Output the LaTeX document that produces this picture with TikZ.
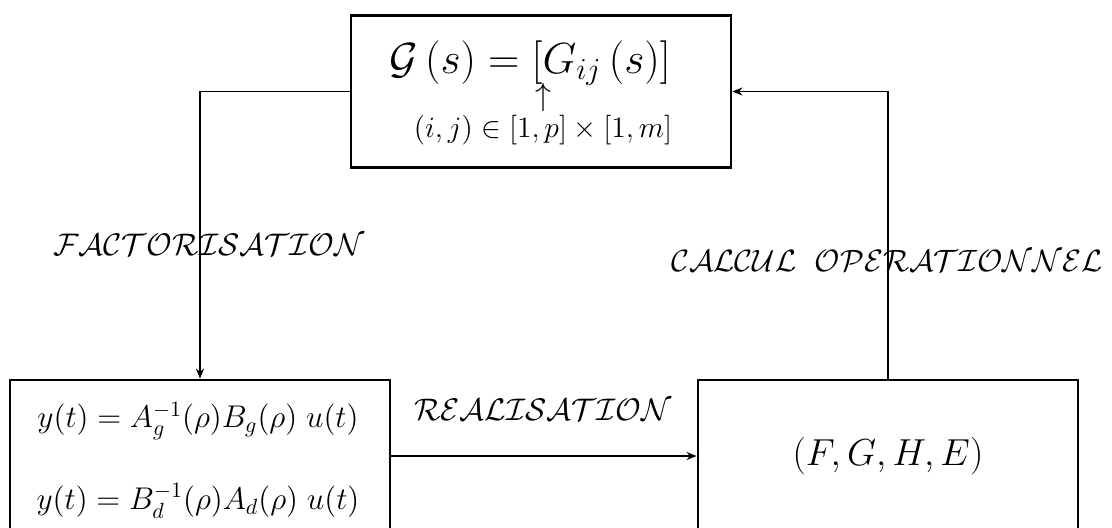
\RequirePackage{fix-cm}
\documentclass[tikz,border=0pt]{standalone}
\usepackage{amsmath}
\usetikzlibrary{arrows.meta}
\begin{document}
\begin{tikzpicture}[x=0.5pt,y=-0.5pt,
  box/.style={draw,line width=1.4pt,minimum width=190pt,minimum height=76pt,inner sep=0pt},
  conn/.style={line width=0.9pt},
  arr/.style={conn,-{Stealth[length=5pt,width=4pt]}},
  txt/.style={inner sep=0pt},
  lab/.style={inner sep=0pt,font=\fontsize{15.6}{19}\selectfont}]
\clip (0,0) rectangle (1112,527);
\node[box] (top) at (541,91.5) {};
\node[box] (lb) at (200,456) {};
\node[box] (rb) at (888,456) {};
\node[txt,font=\fontsize{21.8}{26}\selectfont] (t1) at (530,63) {$\mathcal{G}\left(s\right)=\left[G_{ij}\left(s\right)\right]$};
\node[txt,font=\fontsize{16}{19}\selectfont] (t2) at (543,97) {$\uparrow$};
\node[txt,font=\fontsize{14.8}{17}\selectfont] (t3) at (543,130) {$(i,j)\in[1,p]\times[1,m]$};
\node[txt,font=\fontsize{15.7}{19}\selectfont] (l1) at (198,421) {$y(t)=A_g^{-1}(\rho)B_g(\rho)\;u(t)$};
\node[txt,font=\fontsize{15.7}{19}\selectfont] (l2) at (198,501) {$y(t)=B_d^{-1}(\rho)A_d(\rho)\;u(t)$};
\node[txt,font=\fontsize{18.8}{22}\selectfont] (r1) at (888,456) {$(F,G,H,E)$};
\node[lab] (fac) at (209,245) {$\mathcal{FACTORISATION}$};
\node[lab] (rea) at (543,410) {$\mathcal{REALISATION}$};
\node[lab,font=\fontsize{15.4}{18}\selectfont] (cal) at (887,261) {$\mathcal{CALCUL}\ \ \mathcal{OPERATIONNEL}$};
\draw[arr] (top.west) -| (lb.north);
\draw[arr] (rb.north) |- (top.east);
\draw[arr] (lb.east) -- (rb.west);
\end{tikzpicture}
\end{document}
